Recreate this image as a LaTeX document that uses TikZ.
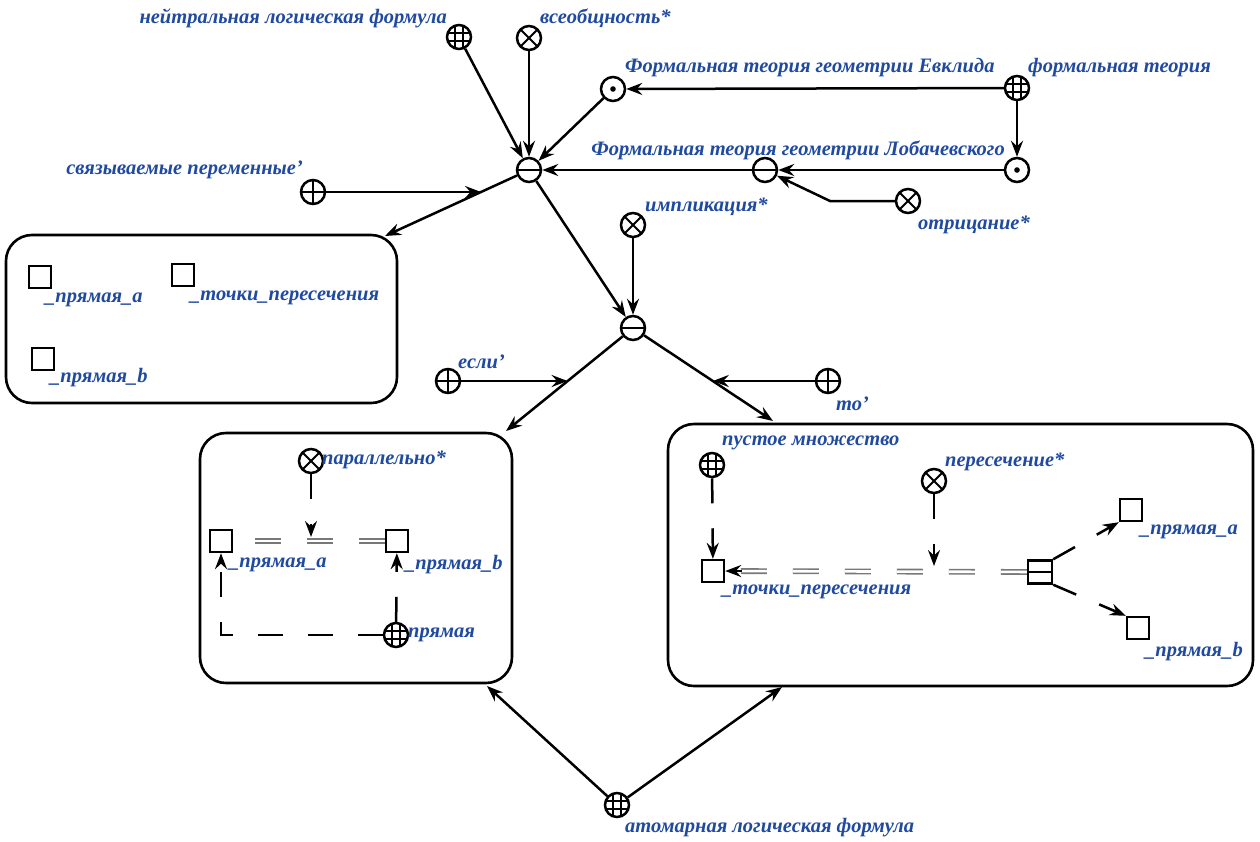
\documentclass[tikz,border=0pt]{standalone}
\usepackage{fontspec}
\setmainfont{Liberation Serif}
\usetikzlibrary{arrows.meta,calc}
\definecolor{textblue}{RGB}{32,74,160}
\definecolor{dgray}{RGB}{120,120,120}
\tikzset{
  circ/.style={circle, draw, line width=2.5pt, minimum size=24pt, inner sep=0pt, fill=white},
  gridc/.style={circ, path picture={
    \foreach \d in {-3.9,3.9}{
      \draw[black, line width=1.5pt] ([xshift=\d pt]path picture bounding box.north) -- ([xshift=\d pt]path picture bounding box.south);
      \draw[black, line width=1.5pt] ([yshift=\d pt]path picture bounding box.west) -- ([yshift=\d pt]path picture bounding box.east);
    }}},
  otimesc/.style={circ, path picture={
      \draw[black, line width=2pt] (path picture bounding box.north east) -- (path picture bounding box.south west);
      \draw[black, line width=2pt] (path picture bounding box.north west) -- (path picture bounding box.south east);}},
  oplusc/.style={circ, path picture={
      \draw[black, line width=2pt] (path picture bounding box.north) -- (path picture bounding box.south);
      \draw[black, line width=2pt] (path picture bounding box.west) -- (path picture bounding box.east);}},
  ominusc/.style={circ, path picture={
      \draw[black, line width=2pt] (path picture bounding box.west) -- (path picture bounding box.east);}},
  odotc/.style={circ, path picture={
      \fill[black] (path picture bounding box.center) circle[radius=2.8pt];}},
  sq/.style={rectangle, draw, line width=2.4pt, minimum size=22pt, inner sep=0pt},
  splitbox/.style={rectangle, draw, line width=2.4pt, minimum width=24pt, minimum height=23pt, inner sep=0pt,
     path picture={\draw[black, line width=2pt] (path picture bounding box.west) -- (path picture bounding box.east);}},
  box/.style={draw, line width=2.6pt, rounded corners=26pt, inner sep=0pt},
  lbl/.style={font=\bfseries\itshape\fontsize{20.5}{24}\selectfont, text=textblue, inner sep=0pt},
  arr/.style={line width=2.5pt, -{Stealth[length=16pt,width=12pt,inset=5.5pt]}},
  darr/.style={arr, dash pattern=on 25pt off 25pt},
  dbl/.style={draw=dgray, double=white, double distance=2.6pt, line width=1.6pt, dash pattern=on 26pt off 26pt},
}
\begin{document}
\begin{tikzpicture}[x=1pt,y=-1pt]
\useasboundingbox (0,0) rectangle (1260,841);

% boxes
\node[box, minimum width=391pt, minimum height=168pt] (B1) at (201.5,319) {};
\node[box, minimum width=312pt, minimum height=250pt] (B2) at (356,558) {};
\node[box, minimum width=585pt, minimum height=262pt] (B3) at (960.5,555) {};

% top nodes
\node[gridc] (n1) at (459,37) {};
\node[otimesc] (n2) at (529,38) {};
\node[odotc] (E) at (613,89) {};
\node[gridc] (FT) at (1017,88) {};
\node[odotc] (L) at (1017,170) {};
\node[ominusc] (M) at (765,170) {};
\node[otimesc] (neg) at (908,201) {};
\node[ominusc] (C) at (529,170) {};
\node[oplusc] (sv) at (313,192) {};
\node[otimesc] (impl) at (633,225) {};
\node[ominusc] (C2) at (633,328) {};
\node[oplusc] (if) at (448,381) {};
\node[oplusc] (to) at (828,381) {};
\node[gridc] (atom) at (617,805) {};

% labels top
\node[lbl, anchor=east] (ln1) at (447,18) {нейтральная логическая формула};
\node[lbl, anchor=west] (ln2) at (540,18) {всеобщность*};
\node[lbl, anchor=west] (lE) at (625,68) {Формальная теория геометрии Евклида};
\node[lbl, anchor=west] (lFT) at (1028,68) {формальная теория};
\node[lbl, anchor=east] (lL) at (1005,150) {Формальная теория геометрии Лобачевского};
\node[lbl, anchor=east] (lsv) at (303,170) {связываемые переменные'};
\node[lbl, anchor=west] (lneg) at (918,225) {отрицание*};
\node[lbl, anchor=west] (limpl) at (645,207) {импликация*};
\node[lbl, anchor=west] (lif) at (458,362) {если'};
\node[lbl, anchor=west] (lto) at (836,404) {то'};
\node[lbl, anchor=west] (latom) at (625,828) {атомарная логическая формула};

% box 1 content
\node[sq] (s1a) at (40,277) {};
\node[sq] (s1t) at (183,275) {};
\node[sq] (s1b) at (43,359) {};
\node[lbl, anchor=west] (l1a) at (45,300) {\_прямая\_a};
\node[lbl, anchor=west] (l1t) at (190,298) {\_точки\_пересечения};
\node[lbl, anchor=west] (l1b) at (50,378) {\_прямая\_b};

% box 2 content
\node[otimesc] (par) at (311,461) {};
\node[sq] (s2a) at (221,541) {};
\node[sq] (s2b) at (397,541) {};
\node[gridc] (pr) at (396,635) {};
\node[lbl, anchor=west] (lpar) at (322,460) {параллельно*};
\node[lbl, anchor=west] (l2a) at (229,565) {\_прямая\_a};
\node[lbl, anchor=west] (l2b) at (405,565) {\_прямая\_b};
\node[lbl, anchor=west] (lpr) at (408,635) {прямая};

% box 3 content
\node[gridc] (em) at (712,465) {};
\node[sq] (s3t) at (713,571) {};
\node[otimesc] (inter) at (934,481) {};
\node[splitbox] (split) at (1040,572) {};
\node[sq] (s3a) at (1131,510) {};
\node[sq] (s3b) at (1138,628) {};
\node[lbl, anchor=west] (lem) at (722,443) {пустое множество};
\node[lbl, anchor=west] (l3t) at (722,592) {\_точки\_пересечения};
\node[lbl, anchor=west] (linter) at (945,462) {пересечение*};
\node[lbl, anchor=west] (l3a) at (1140,532) {\_прямая\_a};
\node[lbl, anchor=west] (l3b) at (1145,652) {\_прямая\_b};

% coordinates
\coordinate (b1tip) at (385,236);
\coordinate (b2tip) at (506,431);
\coordinate (b3tip) at (773,421);
\coordinate (b2bot) at (487,686);
\coordinate (b3bot) at (782,687);
\coordinate (negb) at (830,201);
\coordinate (svx) at ($(C)!0.333!(b1tip)$);
\coordinate (ifx) at ($(C2)!0.515!(b2tip)$);
\coordinate (tox) at ($(C2)!0.57!(b3tip)$);
\coordinate (parhit) at (311,537);
\coordinate (interhit) at (934,566);

% top connectors
\draw[arr] (n1) -- (C);
\draw[arr] (n2) -- (C);
\draw[arr] (E) -- (C);
\draw[arr] (FT) -- (E);
\draw[arr] (FT) -- (L);
\draw[arr] (L) -- (M);
\draw[arr] (neg) -- (negb) -- (M);
\draw[arr] (M) -- (C);
\draw[arr] (C) -- (b1tip);
\draw[arr] (sv) -- (sv -| svx);
\draw[arr] (C) -- (C2);
\draw[arr] (impl) -- (C2);
\draw[arr] (C2) -- (b2tip);
\draw[arr] (C2) -- (b3tip);
\draw[arr] (if) -- (if -| ifx);
\draw[arr] (to) -- (to -| tox);
\draw[arr] (atom) -- (b2bot);
\draw[arr] (atom) -- (b3bot);

% box 2 connectors
\draw[dbl] (s2b) -- (s2a);
\draw[darr] (par) -- (parhit);
\draw[darr] (pr) -- (s2b);
\draw[darr] (pr) -- (s2a |- pr) -- (s2a);

% box 3 connectors
\draw[dbl] (split) -- (s3t);
\draw[arr] ($(s3t.east)+(17,0)$) -- (s3t.east);
\draw[darr] (em) -- (s3t);
\draw[darr] (inter) -- (interhit);
\draw[darr] (split.north east) -- (s3a.south west);
\draw[darr] (split.south east) -- (s3b.north west);
\end{tikzpicture}
\end{document}
